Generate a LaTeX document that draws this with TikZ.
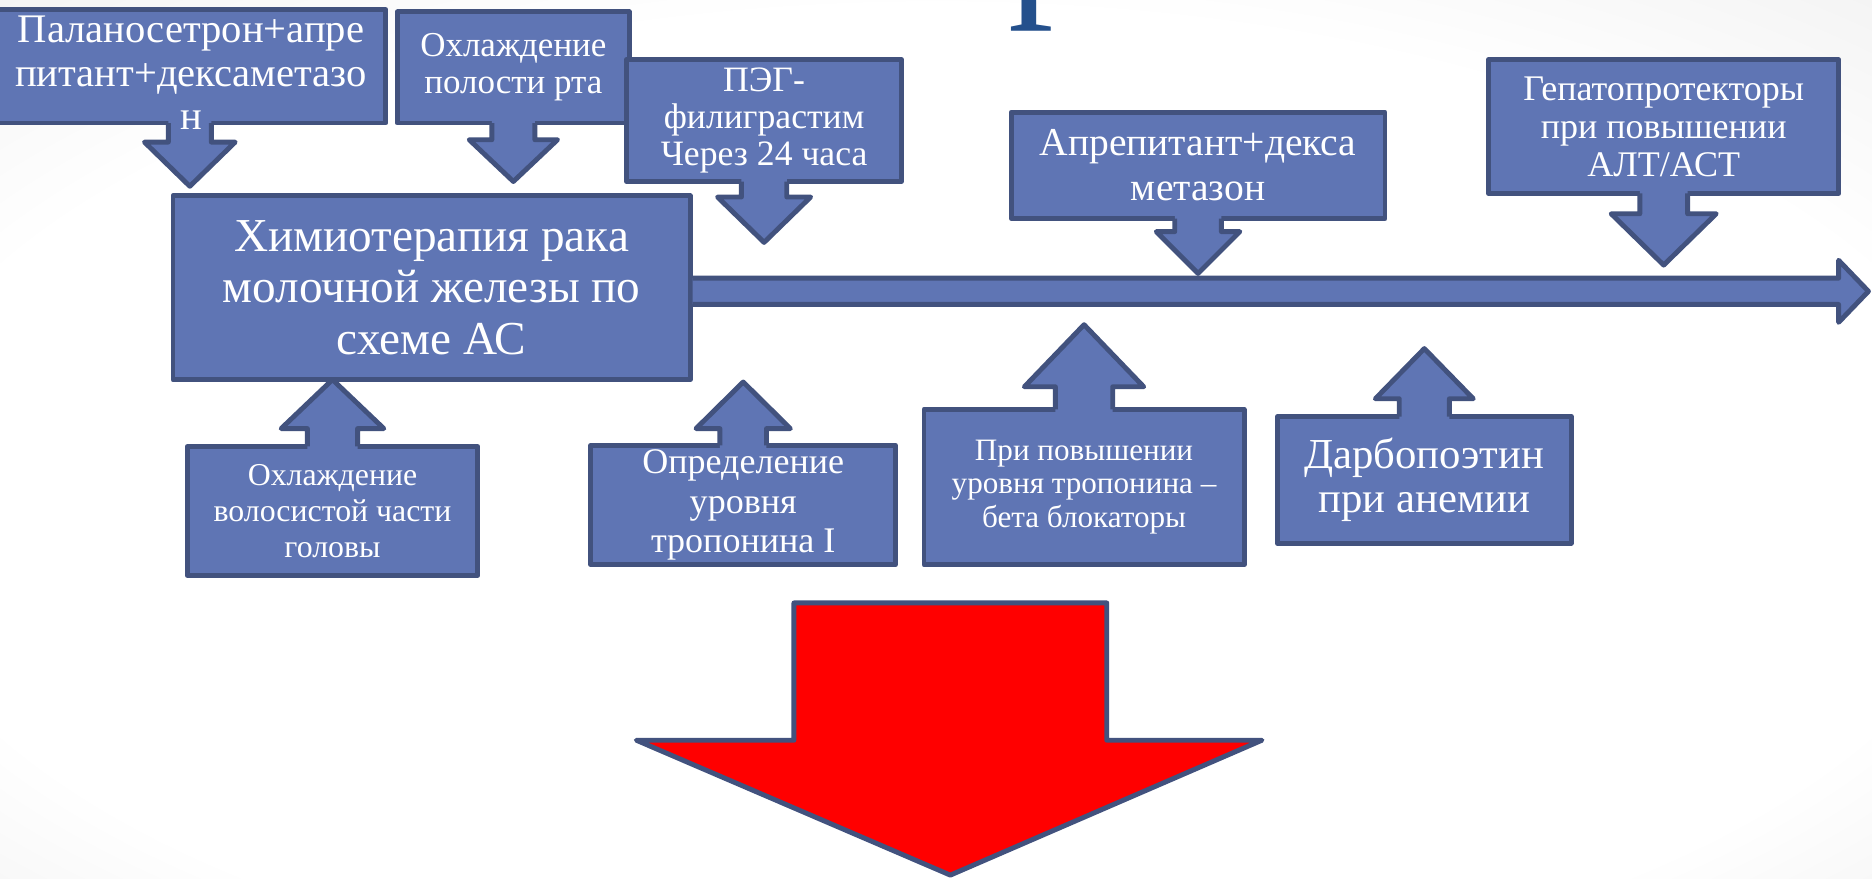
\documentclass[tikz,border=0pt]{standalone}
\usepackage{fontspec}
\setmainfont{Liberation Serif}
\usepackage{tikz}
\usetikzlibrary{calc}
\definecolor{boxblue}{RGB}{95,117,180}
\definecolor{boxline}{RGB}{66,82,126}
\definecolor{titleblue}{RGB}{36,80,140}
\definecolor{bggray}{RGB}{228,228,228}
\pgfdeclareradialshading{slidebg}{\pgfpoint{0bp}{-8bp}}{color(0bp)=(white); color(28bp)=(white); color(50bp)=(bggray)}
\newcommand{\fsz}[2]{\fontsize{#1}{#2}\selectfont}
\tikzset{
    box/.style={
        rectangle, draw=boxline, fill=boxblue, line width=1.4pt,
        text=white, align=center, inner sep=1pt, outer sep=0pt,
        line join=round,
    },
    txt/.style={text=white, align=center, inner sep=0pt},
    callbody/.style={fill=boxblue},
    callline/.style={draw=boxline, line width=1.4pt, line join=round},
    bigdown/.style={draw=boxline, fill=red, line width=1.4pt, line join=round},
}
% node, stem half width, stem length, head half width, head length
\newcommand{\calldown}[5]{%
    \fill[callbody] (#1.south) ++(-#2,-2.5) -- ++(0,#3+2.5) -- ++(#2-#4,0)
        -- ++(#4,#5) -- ++(#4,-#5) -- ++(#2-#4,0) -- ++(0,-#3-2.5) -- cycle;
    \draw[callline] (#1.south) ++(-#2,0) -- ++(0,#3) -- ++(#2-#4,0)
        -- ++(#4,#5) -- ++(#4,-#5) -- ++(#2-#4,0) -- ++(0,-#3);
}
\newcommand{\callup}[5]{%
    \fill[callbody] (#1.north) ++(-#2,2.5) -- ++(0,-#3-2.5) -- ++(#2-#4,0)
        -- ++(#4,-#5) -- ++(#4,#5) -- ++(#2-#4,0) -- ++(0,#3+2.5) -- cycle;
    \draw[callline] (#1.north) ++(-#2,0) -- ++(0,-#3) -- ++(#2-#4,0)
        -- ++(#4,-#5) -- ++(#4,#5) -- ++(#2-#4,0) -- ++(0,#3);
}

\begin{document}
\begin{tikzpicture}[x=0.012cm, y=-0.012cm]
    \useasboundingbox (0,0) rectangle (1568,736);
    \clip (0,0) rectangle (1568,736);
    \shade[shading=slidebg] (0,0) rectangle (1568,736);

    \node[anchor=base, inner sep=0pt, text=titleblue, font=\fsz{52}{52}] (ttl) at (883,-6) {р};

    % main box and time axis
    \node[box, minimum width=5.196cm, minimum height=1.848cm, font=\fsz{13.5}{14.7}] (main) at (361.5,241)
        {Химиотерапия рака\\молочной железы по\\схеме АС};
    \coordinate (tend) at (1565,244);
    \fill[callbody] ($(main.east)+(2,-8)$) -- ($(tend)+(-25,-11)$) -- ($(tend)+(-25,-26)$)
        -- (tend) -- ($(tend)+(-25,26)$) -- ($(tend)+(-25,11)$) -- ($(main.east)+(2,14)$) -- cycle;
    \draw[callline] ($(main.east)+(2,-8)$) -- ($(tend)+(-25,-11)$) -- ($(tend)+(-25,-26)$)
        -- (tend) -- ($(tend)+(-25,26)$) -- ($(tend)+(-25,11)$) -- ($(main.east)+(2,14)$);

    % above the axis
    \node[box, minimum width=3.936cm, minimum height=1.14cm] (pal) at (159,55.5) {};
    \calldown{pal}{18}{16}{38}{37}
    \node[txt, font=\fsz{11.6}{12.5}] (palt) at (160,61)
        {Паланосетрон+апре\\питант+дексаметазо\\н};

    \node[box, minimum width=2.328cm, minimum height=1.116cm, font=\fsz{10}{10.6}] (oral) at (430,56.5)
        {Охлаждение\\полости рта};
    \calldown{oral}{18}{14}{37}{35}

    \node[box, minimum width=2.76cm, minimum height=1.224cm, font=\fsz{10.2}{10.6}] (peg) at (640,101)
        {ПЭГ-\\филиграстим\\Через 24 часа};
    \calldown{peg}{19}{13}{39}{38}

    \node[box, minimum width=3.756cm, minimum height=1.068cm, font=\fsz{11.3}{13}] (aprep) at (1003.5,138.5)
        {Апрепитант+декса\\метазон};
    \calldown{aprep}{19.5}{11}{35}{35}

    \node[box, minimum width=3.516cm, minimum height=1.344cm, font=\fsz{10.3}{10.9}] (hep) at (1393.5,106)
        {Гепатопротекторы\\при повышении\\АЛТ/АСТ};
    \calldown{hep}{20}{17}{44}{43}

    % below the axis
    \node[box, minimum width=2.916cm, minimum height=1.296cm, font=\fsz{9.1}{10.2}] (hair) at (278.5,428)
        {Охлаждение\\волосистой части\\головы};
    \callup{hair}{21}{15}{43}{41}

    \node[box, minimum width=3.06cm, minimum height=1.2cm, font=\fsz{10.3}{11.3}] (trop) at (622.5,423)
        {Определение\\уровня\\тропонина I};
    \callup{trop}{19.5}{14}{39.5}{39}

    \node[box, minimum width=3.216cm, minimum height=1.56cm, font=\fsz{8.9}{9.6}] (beta) at (908,408)
        {При повышении\\уровня тропонина –\\бета блокаторы};
    \callup{beta}{24}{19}{50}{52}

    \node[box, minimum width=2.952cm, minimum height=1.272cm, font=\fsz{12.2}{12.6}] (darb) at (1193,402)
        {Дарбопоэтин\\при анемии};
    \callup{darb}{21}{15}{41}{42}

    % big red arrow
    \draw[bigdown] (665,505) -- (927,505) -- (927,620) -- (1057,620)
        -- (796,733) -- (533,620) -- (665,620) -- cycle;
\end{tikzpicture}
\end{document}
